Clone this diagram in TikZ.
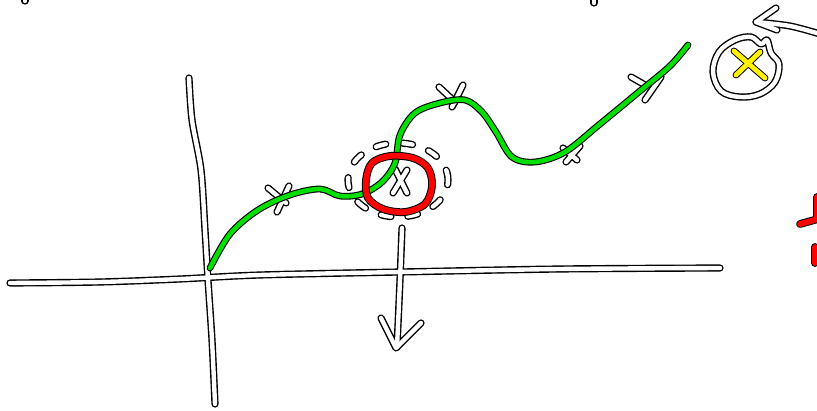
\documentclass[tikz,border=0pt]{standalone}
\begin{document}
\begin{tikzpicture}[x=1pt,y=-1pt,line cap=round,line join=round,
  ob/.style={draw=black,line width=7.2pt},
  wf/.style={draw=white,line width=4.4pt},
  gob/.style={draw=black,line width=6.8pt},
  gf/.style={draw=green!88!black,line width=4.6pt},
  rob/.style={draw=black,line width=7.8pt},
  rf/.style={draw=red,line width=5.8pt},
  yob/.style={draw=black,line width=6.8pt},
  yf/.style={draw=yellow,line width=4.8pt}]
\useasboundingbox (0,0) rectangle (817,411);
\fill[white] (0,0) rectangle (817,411);
% white strokes: outline pass then fill pass
\foreach \st in {ob,wf}{
  % horizontal axis
  \draw[\st] plot[smooth,tension=0.5] coordinates {(10,283) (100,282) (180,279) (260,275) (400,272) (560,269) (720,268)};
  % vertical axis
  \draw[\st] plot[smooth,tension=0.5] coordinates {(189,78) (192,120) (201,170) (205,230) (208,280) (212,340) (215,404)};
  % down arrow
  \draw[\st] plot[smooth,tension=0.5] coordinates {(402,228) (400,280) (397,347)};
  \draw[\st] (381,318) -- (396,348) -- (421,323);
  % crosses on the curve
  \draw[\st] (268,188) -- (286,203);
  \draw[\st] (289,186) -- (277,212);
  \draw[\st] (439,87) -- (455,102);
  \draw[\st] (463,85) -- (452,107);
  \draw[\st] (563,148) -- (577,160);
  \draw[\st] (580,146) -- (566,162);
  \draw[\st] (631,77) -- (645,85);
  \draw[\st] (661,77) -- (645,100);
  % X in red circle
  \draw[\st] (395,169) -- (407,193);
  \draw[\st] (407,170) -- (393,193);
  % dashed ring
  \draw[\st,dash pattern=on 10pt off 17pt] (398,180) ellipse [x radius=50pt,y radius=37pt];
  % ring around yellow X
  \draw[\st] plot[smooth cycle,tension=0.6] coordinates {(767,40) (771,53) (779,64) (775,82) (760,94) (740,97) (721,91) (713,72) (719,52) (735,40) (751,37) (761,44)};
  % arrow top right
  \draw[\st] plot[smooth,tension=0.5] coordinates {(820,34) (790,26) (756,22)};
  \draw[\st] (776,8) -- (756,22) -- (777,30);
  % stroke ends at top border
  \draw[\st] (594,-6) -- (594,3);
  \draw[\st] (25,-6) -- (25,1);
}
% green curve
\foreach \st in {gob,gf}{
  \draw[\st] plot[smooth,tension=0.55] coordinates {(210,268) (230,234) (258,210) (290,195) (320,189) (340,196) (362,194) (382,182) (395,163) (400,135) (415,113) (440,103) (465,100) (482,112) (496,132) (512,157) (535,162) (565,152) (600,124) (640,91) (670,66) (688,45)};
}
% red circle and red strokes at right edge
\foreach \st in {rob,rf}{
  \draw[\st] plot[smooth cycle,tension=0.55] coordinates {(366,180) (372,163) (390,156) (413,158) (428,168) (432,186) (425,204) (405,212) (383,209) (368,198)};
  \draw[\st] (817,197) -- (817,217);
  \draw[\st] (800,224) -- (818,219);
  \draw[\st] (815,247) -- (815,263);
}
% yellow X
\foreach \st in {yob,yf}{
  \draw[\st] (734,51) -- (765,78);
  \draw[\st] (760,52) -- (736,75);
}
\end{tikzpicture}
\end{document}
